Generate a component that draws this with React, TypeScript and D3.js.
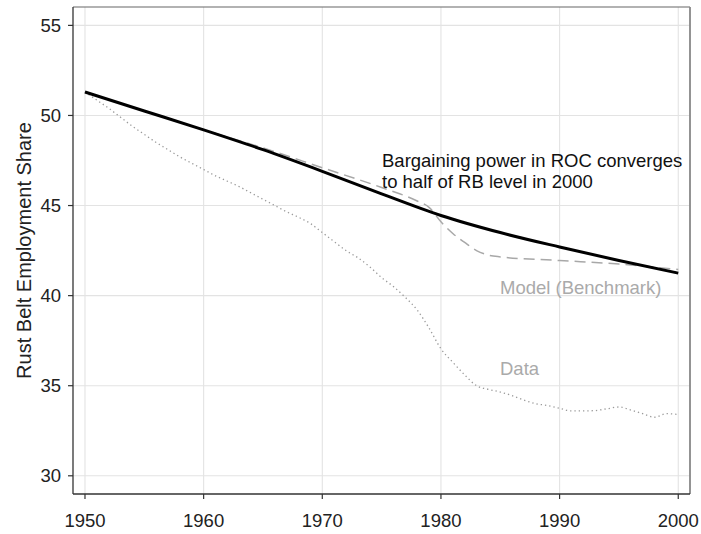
import React from 'react';
import * as d3 from 'd3';

// model with ROC bargaining power converging (solid black)
const modelYears = [1950, 1955, 1960, 1965, 1970, 1975, 1980, 1985, 1990, 1995, 2000];
const modelShare = [51.3, 50.25, 49.2, 48.1, 46.9, 45.65, 44.45, 43.5, 42.7, 41.95, 41.25];

// benchmark model (dashed grey)
const benchYears = [1950, 1955, 1960, 1965, 1970, 1975, 1978, 1979, 1980, 1981, 1982, 1983, 1984, 1985, 1990, 1995, 2000];
const benchShare = [51.3, 50.25, 49.2, 48.2, 47.1, 46.0, 45.25, 44.9, 44.1, 43.45, 42.95, 42.5, 42.25, 42.15, 41.95, 41.75, 41.45];

// data (dotted grey)
const dataYears = d3.range(1950, 2001);
const dataShare = [
  51.3, 50.85, 50.4, 49.9, 49.4, 48.95, 48.5, 48.1, 47.7, 47.35,
  47.0, 46.65, 46.35, 46.05, 45.7, 45.35, 45.0, 44.65, 44.35, 44.0,
  43.5, 43.0, 42.5, 42.1, 41.6, 41.0, 40.5, 39.9, 39.2, 38.2,
  37.05, 36.3, 35.6, 35.0, 34.8, 34.65, 34.45, 34.2, 34.0, 33.9,
  33.75, 33.6, 33.6, 33.62, 33.72, 33.82, 33.65, 33.45, 33.25, 33.45,
  33.4,
];

const xTicks = [1950, 1960, 1970, 1980, 1990, 2000];
const yTicks = [30, 35, 40, 45, 50, 55];

const font = '"Liberation Sans", Arial, Helvetica, sans-serif';

export default function App() {
  const W = 701, H = 534;
  const m = { left: 73, right: 11, top: 7, bottom: 40 };

  const x = d3.scaleLinear().domain([1948.99, 2000.99]).range([m.left, W - m.right]);
  const y = d3.scaleLinear().domain([28.99, 56.02]).range([H - m.bottom, m.top]);

  const line = (xs: number[], ys: number[]) =>
    d3.line<number>()
      .x((_, i) => x(xs[i]))
      .y((d) => y(d))
      .curve(d3.curveMonotoneX)(ys) || '';

  const x0 = m.left, x1 = W - m.right, y0 = H - m.bottom, y1 = m.top;

  return (
    <svg width={W} height={H} style={{ position: 'absolute', left: 0, top: 0, background: '#fff' }} fontFamily={font}>
      {/* grid */}
      {xTicks.map((t) => (
        <line key={'gx' + t} x1={x(t)} x2={x(t)} y1={y1} y2={y0} stroke="#e3e3e3" strokeWidth={1.1} />
      ))}
      {yTicks.map((t) => (
        <line key={'gy' + t} x1={x0} x2={x1} y1={y(t)} y2={y(t)} stroke="#e3e3e3" strokeWidth={1.1} />
      ))}

      {/* series */}
      <path d={line(dataYears, dataShare)} fill="none" stroke="#9a9a9a" strokeWidth={1.3}
        strokeDasharray="1.3 3" />
      <path d={line(benchYears, benchShare)} fill="none" stroke="#a8a8a8" strokeWidth={1.5}
        strokeDasharray="11 6" />
      <path d={line(modelYears, modelShare)} fill="none" stroke="#000" strokeWidth={3} />

      {/* frame */}
      <line x1={x0} x2={x1} y1={y1} y2={y1} stroke="#666" strokeWidth={1.2} />
      <line x1={x1} x2={x1} y1={y1} y2={y0} stroke="#888" strokeWidth={1.8} />
      <line x1={x0} x2={x0} y1={y1} y2={y0} stroke="#333" strokeWidth={1.3} />
      <line x1={x0} x2={x1} y1={y0} y2={y0} stroke="#333" strokeWidth={1.3} />

      {/* x axis */}
      {xTicks.map((t) => (
        <g key={'xt' + t}>
          <line x1={x(t)} x2={x(t)} y1={y0} y2={y0 + 5} stroke="#333" strokeWidth={1.2} />
          <text x={x(t)} y={y0 + 33} textAnchor="middle" fontSize={18.5} fill="#222">{t}</text>
        </g>
      ))}

      {/* y axis */}
      {yTicks.map((t) => (
        <g key={'yt' + t}>
          <line x1={x0 - 5} x2={x0} y1={y(t)} y2={y(t)} stroke="#333" strokeWidth={1.2} />
          <text x={x0 - 12} y={y(t) + 6.5} textAnchor="end" fontSize={18.5} fill="#222">{t}</text>
        </g>
      ))}
      <text transform={`translate(31, ${(y0 + y1) / 2}) rotate(-90)`} textAnchor="middle" fontSize={20} fill="#222">
        Rust Belt Employment Share
      </text>

      {/* annotations */}
      <text x={382} y={166.5} fontSize={18.5} fill="#111">Bargaining power in ROC converges</text>
      <text x={382} y={188} fontSize={18.5} fill="#111">to half of RB level in 2000</text>
      <text x={500} y={294} fontSize={18.5} fill="#aaa">Model (Benchmark)</text>
      <text x={500} y={375} fontSize={18.5} fill="#aaa">Data</text>
    </svg>
  );
}
